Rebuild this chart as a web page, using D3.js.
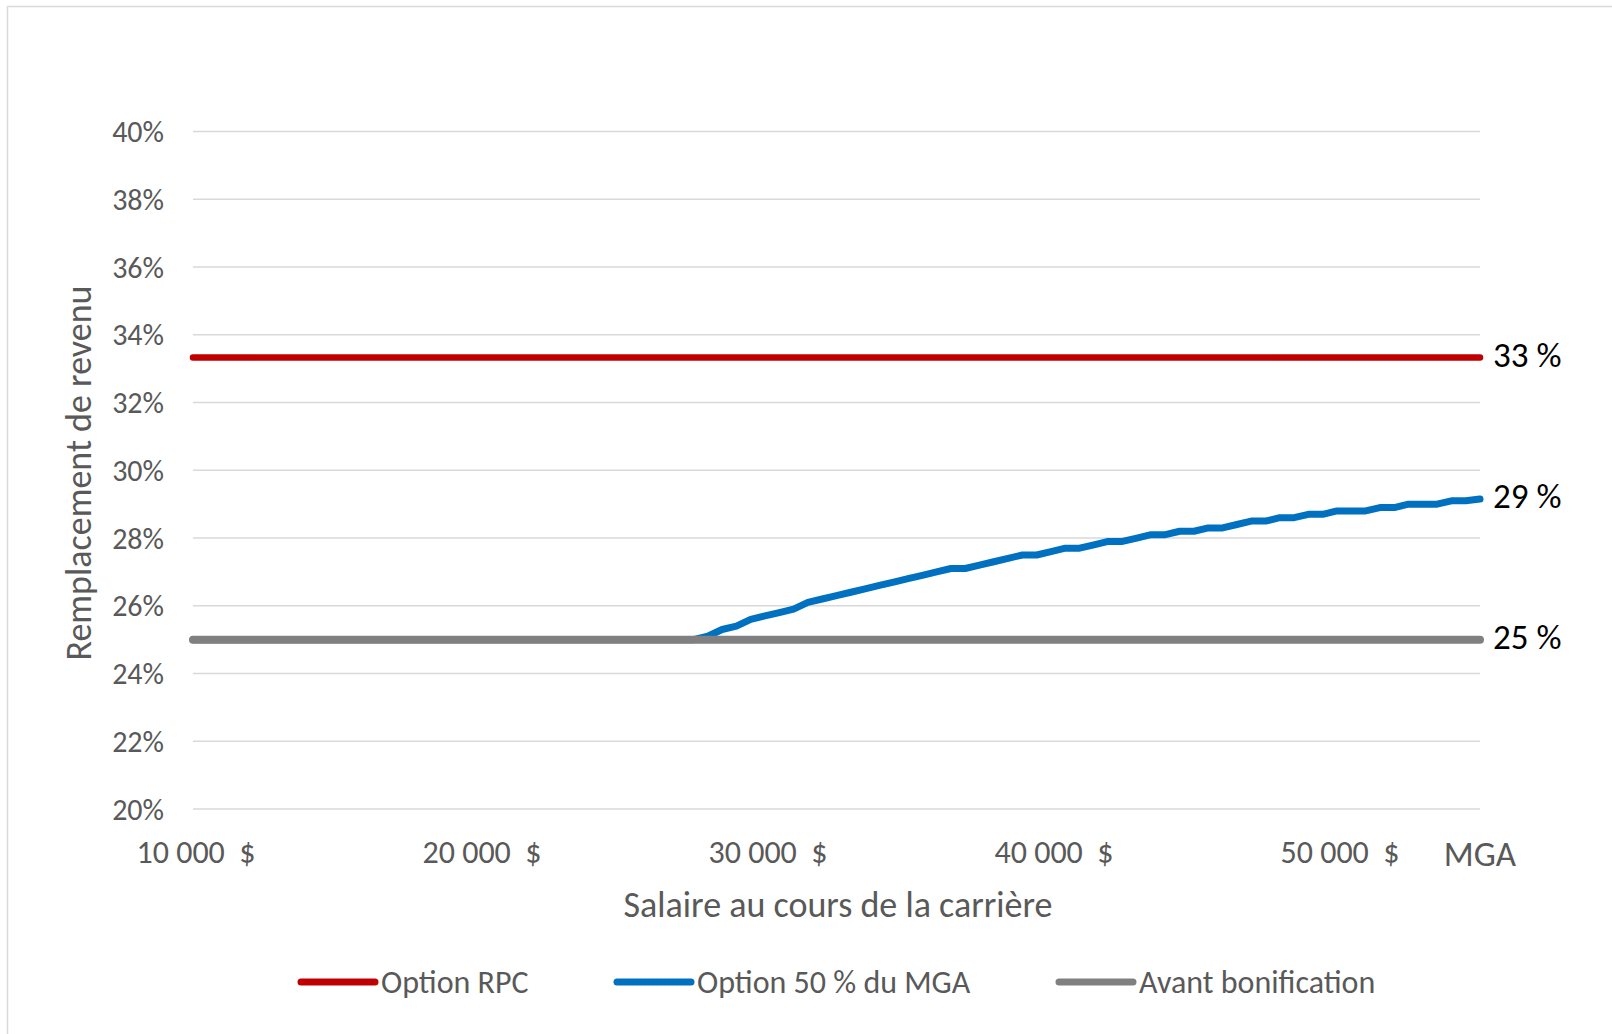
<!DOCTYPE html>
<meta charset="utf-8">
<script src="https://d3js.org/d3.v7.min.js"></script>
<style>
body { margin: 0; background: #fff; }
svg { display: block; font-family: Carlito, Lato, sans-serif; }
.grid line { stroke: #d9d9d9; stroke-width: 1.5px; }
.ylab text { fill: #595959; font-size: 30px; }
.xlab text { fill: #595959; font-size: 32px; }
.title { fill: #595959; font-size: 36px; }
.endlab { fill: #000; font-size: 35px; }
.legend text { fill: #595959; font-size: 32px; }
</style>
<body></body>
<script>

// salary (x) and replacement rate in %
var salaries = [10000, 27000, 27500, 28000, 28500, 29000, 29500, 30000, 30500, 31000, 31500,
  32000, 32500, 33000, 33500, 34000, 34500, 35000, 35500, 36000, 36500, 37000, 37500,
  38000, 38500, 39000, 39500, 40000, 40500, 41000, 41500, 42000, 42500, 43000, 43500,
  44000, 44500, 45000, 45500, 46000, 46500, 47000, 47500, 48000, 48500, 49000, 49500,
  50000, 50500, 51000, 51500, 52000, 52500, 53000, 53500, 54000, 54500, 55000];
var optionMGA = [25.0, 25.0, 25.0, 25.1, 25.3, 25.4, 25.6, 25.7, 25.8, 25.9, 26.1,
  26.2, 26.3, 26.4, 26.5, 26.6, 26.7, 26.8, 26.9, 27.0, 27.1, 27.1, 27.2,
  27.3, 27.4, 27.5, 27.5, 27.6, 27.7, 27.7, 27.8, 27.9, 27.9, 28.0, 28.1,
  28.1, 28.2, 28.2, 28.3, 28.3, 28.4, 28.5, 28.5, 28.6, 28.6, 28.7, 28.7,
  28.8, 28.8, 28.8, 28.9, 28.9, 29.0, 29.0, 29.0, 29.1, 29.1, 29.15];
var rpcSalaries = [10000, 55000];
var optionRPC = [33.33, 33.33];
var avantBonif = [25, 25];

var yTicks = [20, 22, 24, 26, 28, 30, 32, 34, 36, 38, 40];
var xTicks = [10000, 20000, 30000, 40000, 50000];
var mgaValue = 55000;
var endLabels = [{v: 33.33, t: '33 %'}, {v: 29.15, t: '29 %'}, {v: 25, t: '25 %'}];
var seriesNames = ['Option RPC', 'Option 50 % du MGA', 'Avant bonification'];
var colors = ['#c00000', '#0070c0', '#808080'];

var W = 1612, H = 1034;
var svg = d3.select('body').append('svg').attr('width', W).attr('height', H);

svg.append('rect')
  .attr('x', 7.5).attr('y', 6.5)
  .attr('width', W).attr('height', H)
  .attr('fill', '#fff').attr('stroke', '#d9d9d9').attr('stroke-width', 1.5);

var x = d3.scaleLinear().domain([10000, mgaValue]).range([193, 1480]);
var y = d3.scaleLinear().domain([20, 40]).range([809, 131.6]);

// gridlines
svg.append('g').attr('class', 'grid')
  .selectAll('line').data(yTicks).enter().append('line')
  .attr('x1', x(10000)).attr('x2', x(mgaValue))
  .attr('y1', d => y(d)).attr('y2', d => y(d));

// y labels
svg.append('g').attr('class', 'ylab')
  .selectAll('text').data(yTicks).enter().append('text')
  .attr('x', 164).attr('y', d => y(d))
  .attr('text-anchor', 'end').attr('dominant-baseline', 'central')
  .text(d => d + '%');

// x labels
var fmt = d => d3.format(',')(d).replace(/,/g, '\u00a0') + '\u00a0\u00a0$';
svg.append('g').attr('class', 'xlab')
  .selectAll('text').data(xTicks).enter().append('text')
  .attr('x', d => x(d) + 3).attr('y', 852)
  .attr('text-anchor', 'middle').attr('dominant-baseline', 'central')
  .text(fmt);

svg.append('text')
  .attr('x', x(mgaValue)).attr('y', 854)
  .attr('text-anchor', 'middle').attr('dominant-baseline', 'central')
  .style('fill', '#595959').style('font-size', '35px')
  .text('MGA');

// axis titles
svg.append('text').attr('class', 'title')
  .attr('x', 838).attr('y', 905)
  .attr('text-anchor', 'middle').attr('dominant-baseline', 'central')
  .text('Salaire au cours de la carrière');

svg.append('text').attr('class', 'title')
  .attr('transform', 'translate(79,473) rotate(-90)')
  .attr('text-anchor', 'middle').attr('dominant-baseline', 'central')
  .text('Remplacement de revenu');

// lines
var line = d3.line().x(d => x(d[0])).y(d => y(d[1]));

function draw(xs, ys, color, w) {
  svg.append('path')
    .datum(d3.zip(xs, ys))
    .attr('d', line)
    .attr('fill', 'none')
    .attr('stroke', color)
    .attr('stroke-width', w)
    .attr('stroke-linecap', 'round')
    .attr('stroke-linejoin', 'round');
}

draw(salaries, optionMGA, colors[1], 7);
draw(rpcSalaries, avantBonif, colors[2], 8);
draw(rpcSalaries, optionRPC, colors[0], 6.5);

// end labels
svg.append('g')
  .selectAll('text').data(endLabels).enter().append('text')
  .attr('class', 'endlab')
  .attr('x', 1493).attr('y', d => y(d.v) - 3)
  .attr('dominant-baseline', 'central')
  .text(d => d.t);

// legend
var legX = [301, 617, 1059];
var leg = svg.append('g').attr('class', 'legend')
  .selectAll('g').data(seriesNames).enter().append('g')
  .attr('transform', (d, i) => 'translate(' + legX[i] + ',982)');

leg.append('line')
  .attr('x1', 0).attr('x2', 74)
  .attr('stroke', (d, i) => colors[i])
  .attr('stroke-width', 7)
  .attr('stroke-linecap', 'round');

leg.append('text')
  .attr('x', 80).attr('dominant-baseline', 'central')
  .text(d => d);

</script>
